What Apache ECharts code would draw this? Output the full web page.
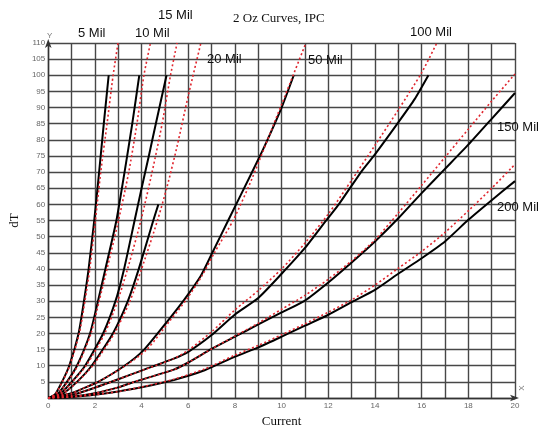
<!DOCTYPE html>
<html>
<head>
<meta charset="utf-8">
<script src="https://cdn.jsdelivr.net/npm/echarts@6.0.0/dist/echarts.min.js"></script>
<style>
html,body{margin:0;padding:0;background:#fff;}
#chart{width:540px;height:437px;}
</style>
</head>
<body>
<div id="chart"></div>
<script>
// ---- tick labels ----
const xTickLabels = [0, 2, 4, 6, 8, 10, 12, 14, 16, 18, 20];
const yTickLabels = [0, 5, 10, 15, 20, 25, 30, 35, 40, 45, 50, 55, 60, 65, 70, 75, 80, 85, 90, 95, 100, 105, 110];

// ---- curve names ----
const curveNames = ['5 Mil', '10 Mil', '15 Mil', '20 Mil', '50 Mil', '100 Mil', '150 Mil', '200 Mil'];

// ---- measured curves (black, solid): [current, dT] ----
const mil5Solid = [[0,0],[0.3,1.2],[0.59,5],[0.9,10],[1.3,20],[1.53,30],[1.73,40],[1.97,55],[2.18,70],[2.38,85],[2.59,100]];
const mil10Solid = [[0,0],[0.4,1.2],[0.8,5],[1.23,10],[1.79,20],[2.13,30],[2.45,40],[2.92,55],[3.27,70],[3.6,85],[3.9,100]];
const mil15Solid = [[0,0],[0.5,1.2],[1.01,5],[1.58,10],[2.35,20],[2.88,30],[3.25,40],[3.7,55],[4.0,65],[4.31,75],[4.61,85],[5.07,100]];
const mil20Solid = [[0,0],[0.6,1.2],[1.23,5],[1.86,10],[2.77,20],[3.41,30],[3.88,40],[4.5,55],[4.72,60]];
const mil50Solid = [[0,0],[1,1.5],[1.5,3],[2.14,5],[3.27,10],[4.11,15],[5.13,24],[5.83,30.5],[6.54,37.9],[7.03,45],[7.73,55.3],[8.72,69.8],[9.21,77.1],[10,90],[10.52,100]];
const mil100Solid = [[0,0],[1,0.9],[2,3.2],[3,5.8],[4,8.5],[5.38,12.2],[6,14.3],[7,19.5],[8,25.9],[9,31],[10,38.5],[11,46.5],[11.96,55.5],[12.45,60],[13.44,70.4],[14,75.5],[15,85.4],[15.7,92.6],[16.29,100]];
const mil150Solid = [[0,0],[1,0.4],[2,1.5],[3,3.3],[3.69,5],[5.38,8.8],[6,11],[7,15.2],[8,19],[9,22.8],[10,26.5],[11,30.2],[12,35.8],[13,42],[14,48.5],[15,55.7],[16,63.5],[17,71],[18,78.5],[19,86.5],[20,94.5]];
const mil200Solid = [[0,0],[1,0.3],[2,1],[3,2],[4,3.3],[5.38,5.6],[6.7,8.6],[8,12.8],[9,15.7],[10,19],[11,22.4],[12,25.8],[13,29.7],[14,33.5],[15,38.5],[16,43.3],[17,48.5],[18,55.2],[19,61.3],[20,67.2]];

// ---- IPC fitted curves (red, dotted): [current, dT] ----
const mil5Dotted = [[0,0],[0.3,1.2],[0.6,5],[0.92,10],[1.33,20],[1.57,30],[1.78,40],[2.02,55],[2.25,70],[2.52,85],[2.78,100],[2.99,110]];
const mil10Dotted = [[0,0],[0.4,1.2],[0.82,5],[1.26,10],[1.83,20],[2.18,30],[2.52,40],[3.01,55],[3.45,70],[3.8,85],[4.1,100],[4.38,110]];
const mil15Dotted = [[0,0],[0.5,1.2],[1.03,5],[1.62,10],[2.42,20],[2.97,30],[3.4,40],[3.97,55],[4.45,70],[4.88,85],[5.24,100],[5.52,110]];
const mil20Dotted = [[0,0],[0.6,1.2],[1.25,5],[1.9,10],[2.83,20],[3.5,30],[4.0,40],[4.68,55],[5.1,65.7],[5.52,78],[6.01,94],[6.54,110]];
const mil50Dotted = [[0,0],[1,1.5],[1.5,3],[2.14,5],[3.3,10],[4.22,15],[5.22,24],[5.92,30.5],[6.6,38],[7.12,45],[7.94,55.3],[8.72,67.8],[10,91],[11.04,110]];
const mil100Dotted = [[0,0],[1,0.9],[2,3.2],[3,5.8],[4,8.5],[5.38,12.2],[6,14.8],[7,20.5],[8,27.3],[9,33.3],[10,40],[11,48],[12,57],[13,67.5],[14,78.3],[15,89.3],[16,100.8],[16.65,110]];
const mil150Dotted = [[0,0],[1,0.4],[2,1.5],[3,3.3],[3.69,5],[5.38,8.8],[6,11],[7,15.2],[8,19.2],[9,23.2],[10,27.5],[11,31.8],[12,36.8],[13,42.5],[14,49],[15,57.3],[16,65.9],[17,74.6],[18,83.3],[19,92],[20,100.4]];
const mil200Dotted = [[0,0],[1,0.3],[2,1],[3,2],[4,3.4],[5.38,5.8],[6.7,9],[8,13.3],[9,16.3],[10,19.6],[11,23],[12,26.6],[13,30.4],[14,35],[15,40.2],[16,45.4],[17,51.3],[18,58],[19,65],[20,72.4]];

const solidCurves = [mil5Solid, mil10Solid, mil15Solid, mil20Solid, mil50Solid, mil100Solid, mil150Solid, mil200Solid];
const dottedCurves = [mil5Dotted, mil10Dotted, mil15Dotted, mil20Dotted, mil50Dotted, mil100Dotted, mil150Dotted, mil200Dotted];

// label anchor positions (layout only, pixels)
const labelPos = [[78,33],[135,33],[158,15],[207,59],[308,60],[410,32],[497,127],[497,207]];

const gridColor = '#474747';
const series = [];
solidCurves.forEach(function (d, i) {
  series.push({
    name: curveNames[i], type: 'line', data: d, showSymbol: false,
    smooth: 0.2, clip: true, z: 2,
    lineStyle: { color: '#000', width: 2 }
  });
});
dottedCurves.forEach(function (d, i) {
  series.push({
    name: curveNames[i] + ' IPC', type: 'line', data: d, showSymbol: false,
    smooth: 0.25, clip: true, z: 3,
    lineStyle: { color: '#e0262e', width: 1.6, type: [2, 2.5] }
  });
});

const graphics = curveNames.map(function (n, i) {
  return { type: 'text', x: labelPos[i][0], y: labelPos[i][1], z: 10,
    style: { text: n, font: '13px "Liberation Sans", Arial, sans-serif', fill: '#111', align: 'left', verticalAlign: 'middle' } };
});
graphics.push({ type: 'text', x: 47, y: 36, style: { text: 'Y', font: '8px "Liberation Sans", sans-serif', fill: '#777', verticalAlign: 'middle' } });
graphics.push({ type: 'text', x: 522, y: 388, rotation: Math.PI / 2, style: { text: 'X', font: '8px "Liberation Sans", sans-serif', fill: '#777', align: 'center', verticalAlign: 'middle' } });

const option = {
  animation: false,
  backgroundColor: '#fff',
  title: {
    text: '2 Oz Curves, IPC', left: 228, top: 7,
    textStyle: { fontFamily: '"Liberation Serif", "Times New Roman", serif', fontSize: 13, fontWeight: 'normal', color: '#111' }
  },
  grid: { left: 42, right: 25, top: 43, bottom: 39, containLabel: false },
  xAxis: {
    type: 'value',
    min: xTickLabels[0], max: xTickLabels[xTickLabels.length - 1], interval: xTickLabels[1] - xTickLabels[0],
    name: 'Current', nameLocation: 'middle', nameGap: 17,
    nameTextStyle: { fontFamily: '"Liberation Serif", "Times New Roman", serif', fontSize: 13, color: '#111' },
    axisLine: { show: true, symbol: ['none', 'arrow'], symbolSize: [5, 9], symbolOffset: [0, 4], lineStyle: { color: '#333', width: 1.4 } },
    axisTick: { show: false },
    axisLabel: { fontSize: 8, color: '#666', margin: 4, fontFamily: '"Liberation Sans", sans-serif' },
    splitLine: { show: true, lineStyle: { color: gridColor, width: 1.4 } },
    minorTick: { show: false, splitNumber: 2 },
    minorSplitLine: { show: true, lineStyle: { color: gridColor, width: 1.4 } }
  },
  yAxis: {
    type: 'value',
    min: yTickLabels[0], max: yTickLabels[yTickLabels.length - 1], interval: yTickLabels[1] - yTickLabels[0],
    name: 'dT', nameLocation: 'middle', nameGap: 23,
    nameTextStyle: { fontFamily: '"Liberation Serif", "Times New Roman", serif', fontSize: 13, color: '#111' },
    axisLine: { show: true, symbol: ['none', 'arrow'], symbolSize: [5, 9], symbolOffset: [0, 4], lineStyle: { color: '#333', width: 1.4 } },
    axisTick: { show: false },
    axisLabel: { fontSize: 8, color: '#666', margin: 3, showMinLabel: false, fontFamily: '"Liberation Sans", sans-serif' },
    splitLine: { show: true, lineStyle: { color: gridColor, width: 1.4 } }
  },
  graphic: graphics,
  series: series
};

const chart = echarts.init(document.getElementById('chart'), null, { renderer: 'canvas' });
chart.setOption(option);
</script>
</body>
</html>
